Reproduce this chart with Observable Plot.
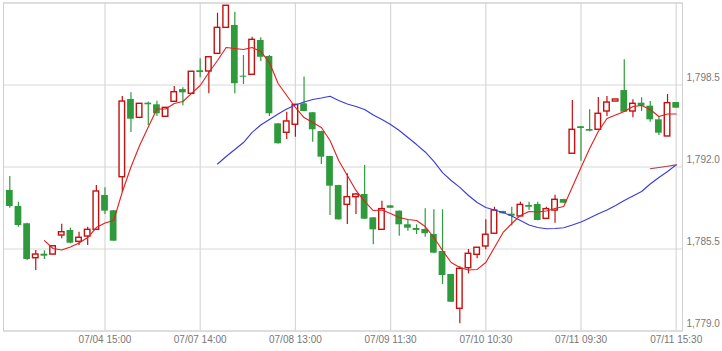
<!DOCTYPE html>
<html><head><meta charset="utf-8">
<script src="https://cdn.jsdelivr.net/npm/d3@7"></script>
<script src="https://cdn.jsdelivr.net/npm/@observablehq/plot@0.6"></script>
<style>html,body{margin:0;padding:0;background:#fff}svg{display:block}</style>
</head><body><div id="chart"></div>
<script>
const open = [1790.14,1788.87,1787.50,1784.77,1785.09,1785.06,1786.57,1786.97,1786.07,1786.49,
1787.02,1789.74,1788.53,1791.19,1797.35,1795.90,1797.06,1796.93,1795.98,1797.17,
1798.14,1797.80,1799.63,1799.57,1800.97,1803.03,1803.22,1799.20,1799.31,1802.03,
1800.76,1795.42,1794.71,1795.35,1797.01,1796.30,1794.81,1792.83,1790.53,1789.00,
1789.61,1789.82,1787.97,1787.02,1788.92,1788.50,1787.42,1787.13,1787.05,1786.65,
1785.30,1783.48,1780.76,1783.98,1785.04,1785.70,1786.71,1788.47,1788.26,1788.08,
1788.95,1789.03,1787.89,1788.55,1789.42,1793.05,1795.19,1794.97,1794.95,1796.40,
1797.19,1798.06,1796.40,1797.06,1796.82,1795.74,1794.42,1797.11];
const high = [1791.25,1789.21,1787.55,1785.38,1785.36,1785.78,1787.47,1787.15,1786.83,1787.23,
1790.53,1790.35,1788.55,1797.59,1797.88,1797.03,1797.15,1797.22,1796.72,1798.38,
1798.28,1799.57,1800.58,1800.76,1804.19,1804.80,1804.27,1800.84,1802.29,1802.24,
1800.84,1795.45,1796.34,1796.95,1799.13,1796.32,1794.83,1792.85,1790.55,1791.46,
1789.90,1792.12,1787.99,1789.29,1788.94,1788.52,1787.76,1787.42,1788.69,1788.61,
1788.61,1783.50,1784.11,1785.46,1785.62,1787.81,1788.81,1788.49,1788.81,1789.21,
1789.21,1789.21,1788.81,1789.76,1789.44,1797.27,1795.21,1796.53,1797.51,1797.59,
1797.37,1800.50,1797.33,1797.49,1797.19,1796.00,1797.75,1797.11];
const low = [1788.73,1787.23,1784.59,1783.80,1784.67,1785.02,1786.31,1785.91,1785.78,1785.78,
1787.00,1788.24,1786.10,1790.00,1794.74,1795.82,1795.29,1796.00,1795.92,1797.15,
1796.85,1797.79,1799.07,1797.80,1800.95,1803.00,1797.80,1798.54,1799.29,1800.36,
1796.00,1793.82,1794.18,1794.36,1796.38,1793.97,1792.20,1788.16,1787.80,1787.44,
1788.24,1787.84,1785.83,1787.00,1788.71,1786.51,1786.91,1786.65,1786.44,1785.12,
1782.69,1781.26,1779.57,1783.53,1784.72,1785.44,1786.69,1788.27,1787.32,1788.06,
1788.55,1787.74,1787.87,1787.55,1789.11,1793.03,1792.46,1794.79,1794.93,1796.00,
1797.17,1796.32,1795.90,1796.40,1795.55,1794.50,1794.40,1796.66];
const close = [1788.87,1787.36,1784.67,1785.06,1784.93,1785.72,1786.83,1785.96,1786.39,1787.02,
1790.06,1788.50,1786.12,1797.19,1795.79,1797.01,1796.93,1796.22,1796.69,1797.93,
1797.88,1799.55,1799.49,1800.70,1803.03,1804.78,1798.60,1799.12,1802.08,1800.70,
1796.22,1793.84,1795.61,1796.93,1796.40,1794.95,1792.78,1790.48,1787.81,1789.61,
1789.82,1787.86,1787.02,1788.66,1788.73,1787.42,1787.15,1786.97,1786.71,1785.17,
1783.40,1781.28,1783.93,1785.12,1785.60,1786.63,1788.55,1788.29,1788.10,1789.00,
1788.81,1787.76,1788.66,1789.40,1789.13,1794.95,1795.05,1794.84,1796.22,1797.11,
1797.35,1796.34,1797.01,1796.82,1795.74,1794.68,1797.06,1796.66];

// moving averages (first candle index where each starts)
const maShortStart = 4;
const maShort = [1786.17,1785.54,1785.42,1785.66,1785.98,1786.41,1787.20,1787.56,1787.76,1790.02,
1792.00,1793.70,1795.17,1796.60,1796.60,1797.03,1797.19,1797.83,1798.46,1799.49,
1800.44,1801.47,1801.39,1801.31,1801.47,1801.16,1800.28,1798.62,1797.67,1796.72,
1795.92,1795.53,1795.13,1794.10,1792.52,1791.33,1790.14,1789.27,1788.55,1788.59,
1788.31,1788.00,1787.84,1787.76,1787.28,1786.41,1785.38,1784.43,1784.03,1783.84,
1783.88,1784.43,1785.62,1786.81,1787.52,1788.16,1788.47,1788.43,1788.51,1788.71,
1788.87,1790.42,1791.96,1793.47,1794.81,1795.85,1796.12,1796.40,1796.80,1796.88,
1796.56,1796.00,1796.20,1796.20];
const maLongStart = 24;
const maLong = [1792.24,1792.83,1793.39,1793.94,1794.74,1795.33,1795.77,1796.20,1796.60,1796.92,
1797.15,1797.35,1797.47,1797.61,1797.27,1796.99,1796.80,1796.56,1796.12,1795.77,
1795.37,1794.89,1794.34,1793.78,1793.19,1792.44,1791.56,1790.93,1790.38,1789.74,
1789.19,1788.79,1788.59,1788.39,1788.12,1787.76,1787.40,1787.20,1787.10,1787.13,
1787.18,1787.40,1787.64,1787.96,1788.29,1788.59,1788.95,1789.34,1789.70,1790.06,
1790.65,1791.17,1791.64,1792.17];
const maLongerStart = 74;
const maLonger = [1791.86,1791.96,1792.06,1792.17];

const xTickIndex = [11,22,33,44,55,66,77];
const xTickLabels = ["07/04 15:00","07/07 14:00","07/08 13:00","07/09 11:30","07/10 10:30","07/11 09:30","07/11 15:30"];
const yTicks = [1779.0,1785.5,1792.0,1798.5];

const GREEN = "#2f9a3c", RED = "#c40f0f";
const candles = open.map((o,i)=>({i, open:o, high:high[i], low:low[i], close:close[i], up: close[i] >= o}));
const ups = candles.filter(d=>d.up), downs = candles.filter(d=>!d.up);
const toSeries = (arr, start) => arr.map((v,k)=>({i:start+k, v}));

const chart = Plot.plot({
  width: 722, height: 351,
  marginLeft: 3, marginRight: 40, marginTop: 2.5, marginBottom: 20.5,
  x: {domain: [-0.728, 77.728]},
  y: {domain: [1779, 1805]},
  style: {fontFamily: "'Liberation Sans', Arial, sans-serif", fontSize: "10px", color: "#777", background: "#fff"},
  marks: [
    Plot.gridY([...yTicks, 1805], {stroke: "#d8d8d8", strokeOpacity: 1}),
    Plot.gridX(xTickIndex, {stroke: "#d8d8d8", strokeOpacity: 1, strokeWidth: 1.2}),
    Plot.frame({stroke: "#d0d0d0"}),
    Plot.axisY(yTicks, {anchor: "right", tickSize: 0, tickPadding: 4, textAnchor: "start", dy: -7,
      tickFormat: d3.format(",.1f"), label: null, fill: "#777"}),
    Plot.axisX(xTickIndex, {anchor: "bottom", tickSize: 0, tickPadding: 5,
      tickFormat: d => xTickLabels[xTickIndex.indexOf(d)], label: null, fill: "#777"}),
    Plot.ruleX(downs, {x: "i", y1: "low", y2: "high", stroke: GREEN, strokeWidth: 1.2}),
    Plot.ruleX(ups, {x: "i", y1: "low", y2: "high", stroke: RED, strokeWidth: 1.2}),
    Plot.rect(downs, {x1: d => d.i - 0.39, x2: d => d.i + 0.39, y1: "open", y2: "close", fill: GREEN}),
    Plot.rect(ups, {x1: d => d.i - 0.32, x2: d => d.i + 0.32, y1: "open", y2: "close", fill: "#fff", stroke: RED, strokeWidth: 1.4}),
    Plot.line(toSeries(maLong, maLongStart), {x: "i", y: "v", stroke: "#3a3adc", strokeWidth: 1.1}),
    Plot.line(toSeries(maLonger, maLongerStart), {x: "i", y: "v", stroke: "#a8444c", strokeWidth: 1.1}),
    Plot.line(toSeries(maShort, maShortStart), {x: "i", y: "v", stroke: "#e41e1e", strokeWidth: 1.1})
  ]
});
document.getElementById("chart").appendChild(chart);
</script>
</body></html>
